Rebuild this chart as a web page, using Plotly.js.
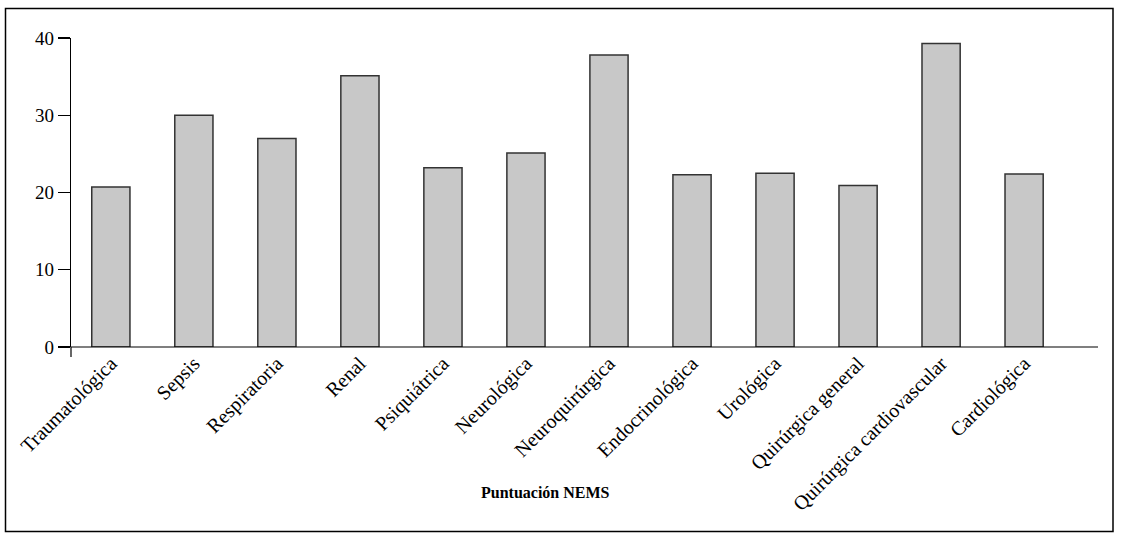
<!DOCTYPE html>
<html>
<head>
<meta charset="utf-8">
<script src="https://cdn.plot.ly/plotly-3.0.1.min.js"></script>
<style>html,body{margin:0;padding:0;background:#fff;}#chart{width:1124px;height:541px;}</style>
</head>
<body>
<div id="chart"></div>
<script>
const categories = ["Traumatológica","Sepsis","Respiratoria","Renal","Psiquiátrica","Neurológica","Neuroquirúrgica","Endocrinológica","Urológica","Quirúrgica general","Quirúrgica cardiovascular","Cardiológica"];
const values = [20.7, 30.0, 27.0, 35.1, 23.2, 25.1, 37.8, 22.3, 22.5, 20.9, 39.3, 22.4];
const yTicks = [0, 10, 20, 30, 40];
const xTitle = "Puntuación NEMS";

const W = 1124, H = 541;
const m = {l: 71, r: 26, t: 38, b: 194};
const pw = W - m.l - m.r, ph = H - m.t - m.b;
const px = v => (v - m.l) / pw;
const py = v => (H - m.b - v) / ph;

const trace = {
  type: 'bar',
  x: categories.map((c, i) => i),
  y: values,
  width: 0.46,
  marker: {color: '#c8c8c8', line: {color: '#333333', width: 1.5}},
  hoverinfo: 'skip'
};

const layout = {
  width: W, height: H,
  margin: m,
  paper_bgcolor: '#fff', plot_bgcolor: '#fff',
  showlegend: false,
  font: {family: 'Liberation Serif, Times New Roman, serif', color: '#000'},
  xaxis: {
    range: [-0.48, 11.89],
    tickvals: categories.map((c, i) => i),
    ticktext: categories,
    tickangle: -45,
    ticks: '',
    showline: false,
    showgrid: false,
    zeroline: false,
    tickfont: {size: 20, family: 'Liberation Serif, serif', color: '#000'}
  },
  yaxis: {
    range: [0, 40],
    tickvals: yTicks,
    ticks: 'outside',
    ticklen: 12,
    tickwidth: 1.2,
    tickcolor: '#000',
    showline: true,
    linecolor: '#000',
    linewidth: 1.2,
    showgrid: false,
    zeroline: false,
    tickfont: {size: 19, family: 'Liberation Serif, serif', color: '#000'}
  },
  shapes: [
    {type: 'line', xref: 'paper', yref: 'paper', x0: 0, x1: 1, y0: 0, y1: 0, line: {color: '#000', width: 1.2}},
    {type: 'line', xref: 'paper', yref: 'paper', x0: 0, x1: 0, y0: 0, y1: py(357), line: {color: '#000', width: 1.2}},
    {type: 'rect', xref: 'paper', yref: 'paper', x0: px(5.5), x1: px(1113), y0: py(531.5), y1: py(8.5), line: {color: '#000', width: 1.5}, fillcolor: 'rgba(0,0,0,0)'}
  ],
  annotations: [
    {text: '<b>' + xTitle + '</b>', xref: 'paper', yref: 'paper', x: px(545), y: py(492), xanchor: 'center', yanchor: 'middle', showarrow: false, font: {size: 16, family: 'Liberation Serif, serif', color: '#000'}}
  ]
};

Plotly.newPlot('chart', [trace], layout, {displayModeBar: false, staticPlot: true});
</script>
</body>
</html>
